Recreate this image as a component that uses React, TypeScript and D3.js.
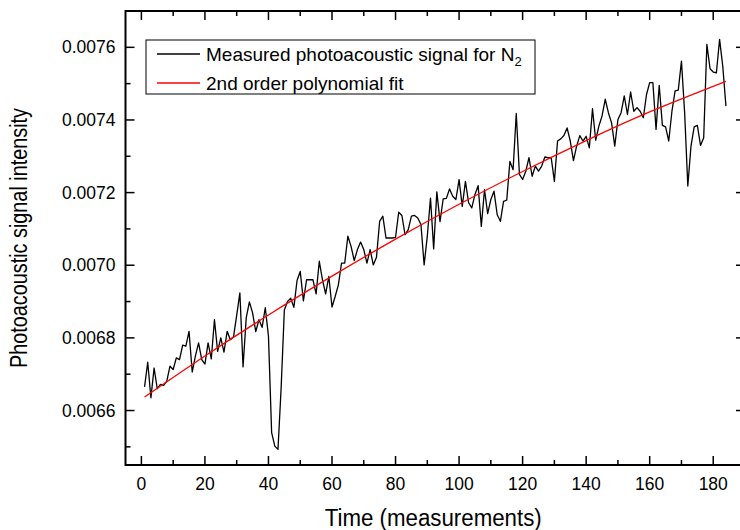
import React from 'react';
import * as d3 from 'd3';

// ---- data ----
const measuredSignal: number[] = [
  0.006665, 0.006733, 0.006635, 0.006717, 0.006660, 0.006672, 0.006669, 0.006681, 0.006722, 0.006713,
  0.006745, 0.006740, 0.006780, 0.006777, 0.006818, 0.006706, 0.006750, 0.006786, 0.006740, 0.006728,
  0.006786, 0.006742, 0.006850, 0.006763, 0.006800, 0.006761, 0.006818, 0.006795, 0.006803, 0.006862,
  0.006924, 0.006720, 0.006855, 0.006899, 0.006869, 0.006817, 0.006850, 0.006829, 0.006883, 0.006805,
  0.006539, 0.006502, 0.006493, 0.006664, 0.006877, 0.006900, 0.006909, 0.006884, 0.006958, 0.006983,
  0.006902, 0.006960, 0.006960, 0.006960, 0.006921, 0.007011, 0.006960, 0.006921, 0.006969, 0.006885,
  0.006914, 0.006946, 0.007006, 0.007006, 0.007080, 0.007052, 0.007013, 0.007043, 0.007064, 0.007043,
  0.007006, 0.007043, 0.007001, 0.007022, 0.007121, 0.007135, 0.007075, 0.007075, 0.007075, 0.007077,
  0.007146, 0.007137, 0.007084, 0.007098, 0.007135, 0.007137, 0.007130, 0.007112, 0.007001, 0.007080,
  0.007185, 0.007045, 0.007202, 0.007120, 0.007183, 0.007184, 0.007210, 0.007190, 0.007181, 0.007236,
  0.007162, 0.007231, 0.007172, 0.007158, 0.007195, 0.007219, 0.007107, 0.007208, 0.007142, 0.007181,
  0.007204, 0.007139, 0.007121, 0.007176, 0.007179, 0.007286, 0.007263, 0.007418, 0.007250, 0.007236,
  0.007259, 0.007296, 0.007245, 0.007273, 0.007259, 0.007273, 0.007298, 0.007296, 0.007296, 0.007231,
  0.007342, 0.007348, 0.007357, 0.007378, 0.007342, 0.007288, 0.007328, 0.007357, 0.007342, 0.007355,
  0.007323, 0.007431, 0.007344, 0.007383, 0.007411, 0.007457, 0.007420, 0.007392, 0.007328, 0.007401,
  0.007420, 0.007466, 0.007415, 0.007477, 0.007424, 0.007434, 0.007424, 0.007406, 0.007470, 0.007503,
  0.007503, 0.007374, 0.007495, 0.007385, 0.007381, 0.007342, 0.007424, 0.007480, 0.007482, 0.007562,
  0.007420, 0.007218, 0.007328, 0.007381, 0.007385, 0.007330, 0.007351, 0.007608, 0.007541, 0.007532,
  0.007530, 0.007622, 0.007548, 0.007438,
];

const fitX: number[] = [1, 20, 40, 60, 80, 100, 120, 140, 160, 184];
const fitY: number[] = [0.006637, 0.00675, 0.006863, 0.00697, 0.007072, 0.007168, 0.007258, 0.007343, 0.007422, 0.007506];

const xMajorTicks: number[] = [0, 20, 40, 60, 80, 100, 120, 140, 160, 180];
const xMinorTicks: number[] = [10, 30, 50, 70, 90, 110, 130, 150, 170];
const yMajorTicks: number[] = [0.0066, 0.0068, 0.007, 0.0072, 0.0074, 0.0076];
const yMajorLabels: string[] = ['0.0066', '0.0068', '0.0070', '0.0072', '0.0074', '0.0076'];
const yMinorTicks: number[] = [0.0065, 0.0067, 0.0069, 0.0071, 0.0073, 0.0075];

const legendLabels: string[] = ['Measured photoacoustic signal for N', '2nd order polynomial fit'];
const xTitle = 'Time (measurements)';
const yTitle = 'Photoacoustic signal intensity';

// ---- layout ----
const W = 740;
const H = 530;
const left = 125.5;
const right = 745;
const top = 11;
const bottom = 465;
const FONT = '"Liberation Sans", Arial, sans-serif';

export default function App() {
  const x = d3.scaleLinear().domain([-5, 190]).range([left, right]);
  const y = d3.scaleLinear().domain([0.00645, 0.0077]).range([bottom, top]);

  const measuredPts: [number, number][] = measuredSignal.map((v, i) => [i + 1, v]);
  const fitPts: [number, number][] = fitX.map((v, i) => [v, fitY[i]]);

  const line = d3
    .line<[number, number]>()
    .x((d) => x(d[0]))
    .y((d) => y(d[1]));
  const smooth = d3
    .line<[number, number]>()
    .x((d) => x(d[0]))
    .y((d) => y(d[1]))
    .curve(d3.curveNatural);

  const major = 9;
  const minor = 5;

  return (
    <svg
      width={W}
      height={H}
      style={{ position: 'absolute', left: 0, top: 0, background: '#fff' }}
      fontFamily={FONT}
    >
      <rect x={0} y={0} width={W} height={H} fill="#fff" />
      {/* data */}
      <path d={line(measuredPts) || ''} fill="none" stroke="#000" strokeWidth={1.3} strokeLinejoin="round" />
      <path d={smooth(fitPts) || ''} fill="none" stroke="#ff0000" strokeWidth={1.3} />

      {/* frame */}
      <rect x={left} y={top} width={right - left} height={bottom - top} fill="none" stroke="#000" strokeWidth={2} />

      {/* x ticks bottom & top */}
      {xMajorTicks.map((t) => (
        <g key={'xm' + t}>
          <line x1={x(t)} x2={x(t)} y1={bottom} y2={bottom - major} stroke="#000" strokeWidth={1.5} />
          <line x1={x(t)} x2={x(t)} y1={top} y2={top + major} stroke="#000" strokeWidth={1.5} />
          <text x={x(t)} y={490} textAnchor="middle" fontSize={17.5} fill="#000">
            {t}
          </text>
        </g>
      ))}
      {xMinorTicks.map((t) => (
        <g key={'xn' + t}>
          <line x1={x(t)} x2={x(t)} y1={bottom} y2={bottom - minor} stroke="#000" strokeWidth={1.5} />
          <line x1={x(t)} x2={x(t)} y1={top} y2={top + minor} stroke="#000" strokeWidth={1.5} />
        </g>
      ))}

      {/* y ticks left & right */}
      {yMajorTicks.map((t, i) => (
        <g key={'ym' + t}>
          <line x1={left} x2={left + major} y1={y(t)} y2={y(t)} stroke="#000" strokeWidth={1.5} />
          <line x1={right} x2={right - major} y1={y(t)} y2={y(t)} stroke="#000" strokeWidth={1.5} />
          <text x={115.5} y={y(t) + 6} textAnchor="end" fontSize={17.5} fill="#000">
            {yMajorLabels[i]}
          </text>
        </g>
      ))}
      {yMinorTicks.map((t) => (
        <g key={'yn' + t}>
          <line x1={left} x2={left + minor} y1={y(t)} y2={y(t)} stroke="#000" strokeWidth={1.5} />
          <line x1={right} x2={right - minor} y1={y(t)} y2={y(t)} stroke="#000" strokeWidth={1.5} />
        </g>
      ))}

      {/* axis titles */}
      <text
        x={(left + right) / 2 - 2}
        y={526}
        textAnchor="middle"
        fontSize={23}
        textLength={217}
        lengthAdjust="spacingAndGlyphs"
        fill="#000"
      >
        {xTitle}
      </text>
      <text
        transform={`translate(27, ${(top + bottom) / 2}) rotate(-90)`}
        textAnchor="middle"
        fontSize={23}
        textLength={260}
        lengthAdjust="spacingAndGlyphs"
        fill="#000"
      >
        {yTitle}
      </text>

      {/* legend */}
      <rect x={146} y={40} width={389} height={54} fill="#fff" stroke="#000" strokeWidth={1} />
      <line x1={157} x2={200} y1={54} y2={54} stroke="#000" strokeWidth={1.3} />
      <line x1={157} x2={200} y1={83} y2={83} stroke="#ff0000" strokeWidth={1.3} />
      <text x={206} y={60.5} fontSize={19} fill="#000">
        {legendLabels[0]}
        <tspan fontSize={13} dy={5}>2</tspan>
      </text>
      <text x={206} y={89.5} fontSize={19} fill="#000">
        {legendLabels[1]}
      </text>
    </svg>
  );
}
